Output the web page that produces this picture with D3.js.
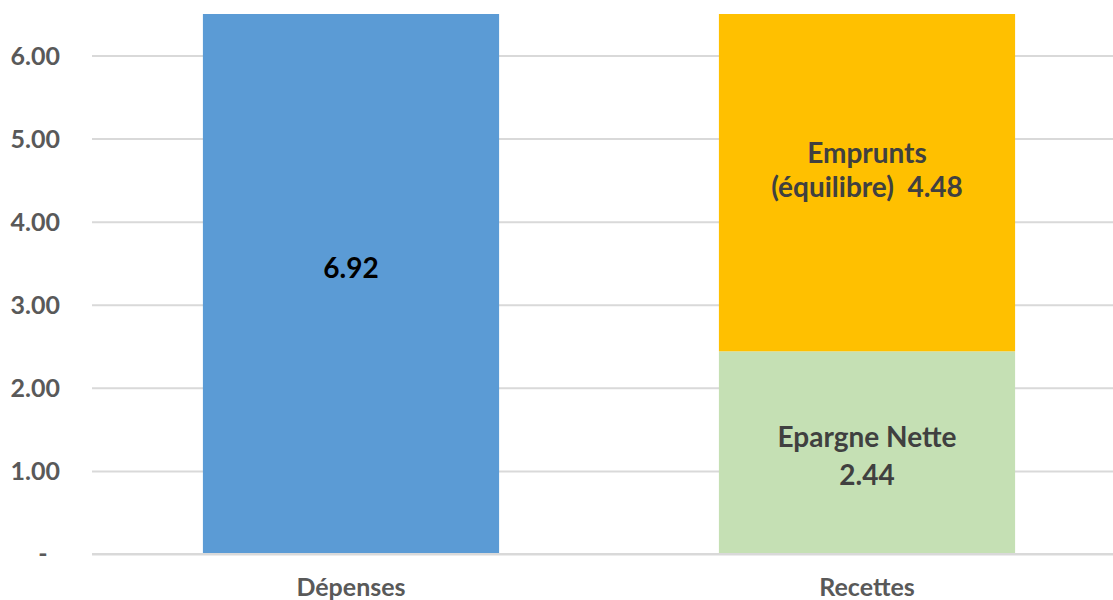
<!DOCTYPE html>
<html><head><meta charset="utf-8">
<script src="https://cdn.jsdelivr.net/npm/d3@7"></script>
<style>body{margin:0;background:#fff}svg{display:block}</style>
</head><body>
<script>
const categories = ["Dépenses", "Recettes"];
const depenses = [6.92, 0];
const epargneNette = [0, 2.44];
const emprunts = [0, 4.48];
const tickValues = [0, 1, 2, 3, 4, 5, 6];
const tickLabels = ["-", "1.00", "2.00", "3.00", "4.00", "5.00", "6.00"];

const W = 1113, H = 600;
const svg = d3.select("body").append("svg").attr("width", W).attr("height", H);
const font = "Lato, 'Open Sans', sans-serif";

const y = d3.scaleLinear().domain([0, 6.5]).range([554, 14]);
const x = d3.scaleBand().domain(categories).range([93, 1125]).paddingInner(0.426).paddingOuter(0.213);

svg.append("defs").append("clipPath").attr("id", "plot")
  .append("rect").attr("x", 0).attr("y", 14).attr("width", W).attr("height", 540);

// gridlines
const yAxis = d3.axisLeft(y).tickValues(tickValues).tickSize(-(W - 92)).tickFormat((d, i) => tickLabels[i]);
const gA = svg.append("g").attr("transform", "translate(92,0)").call(yAxis);
gA.select(".domain").remove();
gA.selectAll(".tick line").attr("stroke", "#D9D9D9").attr("stroke-width", 2);
gA.selectAll(".tick text").attr("x", -32).attr("fill", "#595959")
  .style("font-family", font).style("font-weight", "bold").style("font-size", "25px")
  .attr("dy", "0.35em");
gA.selectAll(".tick").filter(d => d === 0).select("text").attr("x", -49).attr("text-anchor", "middle").attr("dy", "0.3em");

// series stacking
const series = [
  {name: "Dépenses", values: depenses, color: "#5B9BD5"},
  {name: "Epargne Nette", values: epargneNette, color: "#C5E0B4"},
  {name: "Emprunts", values: emprunts, color: "#FFC000"}
];
const rows = categories.map((c, i) => {
  const r = {cat: c};
  series.forEach(s => r[s.name] = s.values[i]);
  return r;
});
const stack = d3.stack().keys(series.map(s => s.name))(rows);

const gBars = svg.append("g").attr("clip-path", "url(#plot)");
stack.forEach((layer, li) => {
  gBars.selectAll(null).data(layer.filter(d => d[1] > d[0])).join("rect")
    .attr("x", d => x(d.data.cat))
    .attr("width", x.bandwidth())
    .attr("y", d => y(d[1]))
    .attr("height", d => y(d[0]) - y(d[1]))
    .attr("fill", series[li].color);
});

// baseline redraw over bars
svg.append("line").attr("x1", 92).attr("x2", W).attr("y1", y(0)).attr("y2", y(0))
  .attr("stroke", "#D9D9D9").attr("stroke-width", 2);

// category labels
svg.selectAll(".cat").data(categories).join("text")
  .attr("x", d => x(d) + x.bandwidth() / 2).attr("y", 596)
  .attr("text-anchor", "middle").attr("fill", "#595959")
  .style("font-family", font).style("font-weight", "bold").style("font-size", "25px")
  .text(d => d);

// data labels
function visMid(v0, v1) { return (Math.min(y(v0), 554) + Math.max(y(v1), 14)) / 2; }
const cx = c => x(c) + x.bandwidth() / 2;

svg.append("text").attr("x", cx("Dépenses")).attr("y", visMid(0, depenses[0]) - 6)
  .attr("text-anchor", "middle").attr("fill", "#000")
  .style("font-family", font).style("font-weight", "bold").style("font-size", "28px")
  .text(depenses[0].toFixed(2));

const e0 = epargneNette[1], e1 = e0 + emprunts[1];
const tEmp = svg.append("text").attr("text-anchor", "middle").attr("fill", "#404040")
  .style("font-family", font).style("font-weight", "bold").style("font-size", "28px");
tEmp.append("tspan").attr("x", cx("Recettes")).attr("y", visMid(e0, e1) - 20).text("Emprunts");
tEmp.append("tspan").attr("x", cx("Recettes")).attr("y", visMid(e0, e1) + 14).text("(équilibre)\u00a0 " + emprunts[1].toFixed(2));

const tEp = svg.append("text").attr("text-anchor", "middle").attr("fill", "#404040")
  .style("font-family", font).style("font-weight", "bold").style("font-size", "28px");
tEp.append("tspan").attr("x", cx("Recettes")).attr("y", visMid(0, e0) - 6).text("Epargne Nette");
tEp.append("tspan").attr("x", cx("Recettes")).attr("y", visMid(0, e0) + 32).text(e0.toFixed(2));
</script>
</body></html>
